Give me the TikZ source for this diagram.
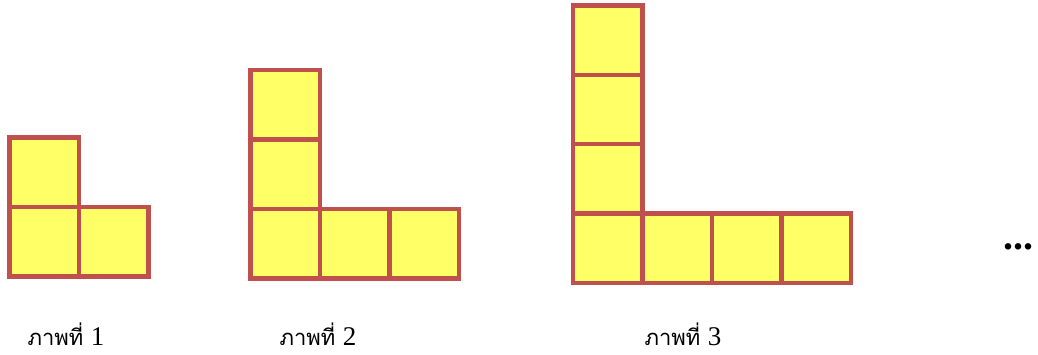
\documentclass[tikz,border=0pt]{standalone}
\usepackage{fontspec}
\setmainfont{Liberation Serif}
\newfontfamily\thaifont[Script=Thai]{Loma}
\definecolor{cellfill}{HTML}{FFFF66}
\definecolor{celldraw}{HTML}{C0504D}
\tikzset{
  cell/.style={shape=rectangle, draw=celldraw, fill=cellfill, line width=4.5pt,
    minimum size=69.5pt, inner sep=0pt, outer sep=0pt},
  caption/.style={font=\fontsize{22}{26}\selectfont, anchor=base, inner sep=0pt}
}
\begin{document}
\begin{tikzpicture}[x=1pt, y=-1pt]
	      \useasboundingbox (0, 0) rectangle (1038, 354);

	      % ภาพที่ 1
	      \node[cell] (a1) at (44, 241.5){};
	      \node[cell] (a2) at (44, 172){};
	      \node[cell] (a3) at (113.5, 241.5){};

	      % ภาพที่ 2
	      \node[cell] (b1) at (285, 243.5){};
	      \node[cell] (b2) at (285, 174){};
	      \node[cell] (b3) at (285, 104.5){};
	      \node[cell] (b4) at (354.5, 243.5){};
	      \node[cell] (b5) at (424, 243.5){};

	      % ภาพที่ 3
	      \node[cell] (c1) at (607.5, 248){};
	      \node[cell] (c2) at (607.5, 178.5){};
	      \node[cell] (c3) at (607.5, 109){};
	      \node[cell] (c4) at (607.5, 40){};
	      \node[cell] (c5) at (677, 248){};
	      \node[cell] (c6) at (746.5, 248){};
	      \node[cell] (c7) at (816, 248){};

	      \node[caption] (l1) at (66, 345){\thaifont ภาพที่ \rmfamily\fontsize{27}{27}\selectfont 1};
	      \node[caption] (l2) at (318, 345){\thaifont ภาพที่ \rmfamily\fontsize{27}{27}\selectfont 2};
	      \node[caption] (l3) at (683, 345){\thaifont ภาพที่ \rmfamily\fontsize{27}{27}\selectfont 3};

	      \node[font=\fontsize{40}{40}\selectfont\bfseries, anchor=base, inner sep=0pt] (dots) at (1018, 249){...};
\end{tikzpicture}
\end{document}
